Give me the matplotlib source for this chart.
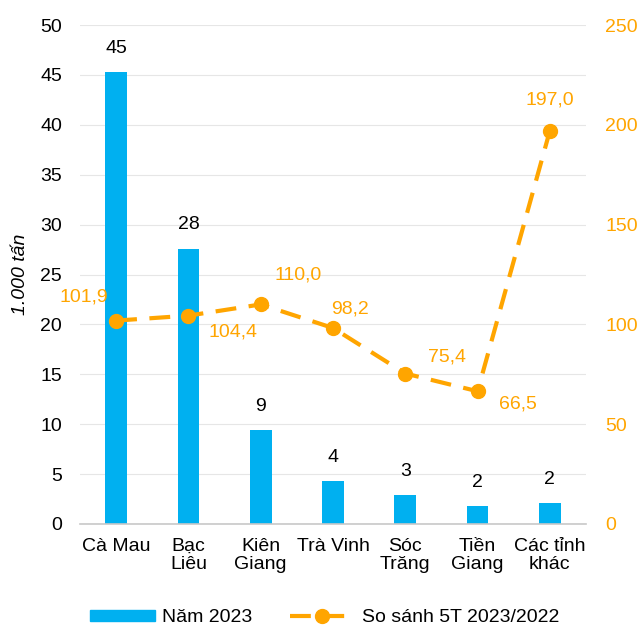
import matplotlib.pyplot as plt
from matplotlib.lines import Line2D
from matplotlib.patches import Patch

plt.rcParams['font.family'] = ['Liberation Sans', 'DejaVu Sans']

categories = ['Cà Mau', 'Bạc\nLiêu', 'Kiên\nGiang', 'Trà Vinh', 'Sóc\nTrăng', 'Tiền\nGiang', 'Các tỉnh\nkhác']
volume_2023 = [45.3, 27.6, 9.4, 4.3, 2.9, 1.8, 2.1]
volume_labels = ['45', '28', '9', '4', '3', '2', '2']
ratio = [101.9, 104.4, 110.0, 98.2, 75.4, 66.5, 197.0]
ratio_labels = ['101,9', '104,4', '110,0', '98,2', '75,4', '66,5', '197,0']

blue = '#00B0F0'
orange = '#FFA500'
dash = (0, (5, 3))
fs = 14

fig = plt.figure(figsize=(6.43, 6.25), dpi=100)
ax = fig.add_axes([80 / 643, 101 / 625, 506 / 643, 499 / 625])
ax2 = ax.twinx()

x = list(range(len(categories)))
ax.bar(x, volume_2023, width=0.30, color=blue, zorder=2)
for xi, v, lab in zip(x, volume_2023, volume_labels):
    ax.annotate(lab, (xi, v), xytext=(0, 17), textcoords='offset points',
                ha='center', va='center', fontsize=fs, color='black')

ax.set_ylim(0, 50)
ax.set_yticks(range(0, 51, 5))
ax.set_xlim(-0.5, len(categories) - 0.5)
ax.set_xticks(x)
ax.set_xticklabels(categories, fontsize=fs, linespacing=1.1)
ax.tick_params(axis='y', labelsize=fs, length=0, pad=13)
ax.tick_params(axis='x', length=0, pad=10)
ax.grid(axis='y', color='#E6E6E6', linewidth=0.8, zorder=0)
ax.set_ylabel('1.000 tấn', fontsize=fs, style='italic', labelpad=8)
for s in ['top', 'right', 'left']:
    ax.spines[s].set_visible(False)
ax.spines['bottom'].set_color('#C8C8C8')
ax.spines['bottom'].set_linewidth(1.2)

ax2.plot(x, ratio, color=orange, linestyle=dash, linewidth=3,
         marker='o', markersize=10, zorder=3)
ax2.set_ylim(0, 250)
ax2.set_yticks(range(0, 251, 50))
ax2.tick_params(axis='y', labelsize=fs, length=0, labelcolor=orange, pad=14)
for s in ['top', 'right', 'left', 'bottom']:
    ax2.spines[s].set_visible(False)

offsets = [(-23, 17), (32, -12), (27, 21), (12, 14), (30, 12), (29, -9), (0, 22)]
for xi, v, lab, off in zip(x, ratio, ratio_labels, offsets):
    ax2.annotate(lab, (xi, v), xytext=off, textcoords='offset points',
                 ha='center', va='center', fontsize=fs, color=orange)

handles = [Patch(color=blue),
           Line2D([0], [0], color=orange, linestyle=dash, linewidth=3,
                  marker='o', markersize=10)]
fig.legend(handles, ['Năm 2023', 'So sánh 5T 2023/2022'], loc='lower center',
           ncol=2, frameon=False, fontsize=fs, bbox_to_anchor=(0.505, -0.03),
           handlelength=3.3, columnspacing=1.9, handleheight=0.55, handletextpad=0.4)

fig.savefig('out.png', dpi=100)
